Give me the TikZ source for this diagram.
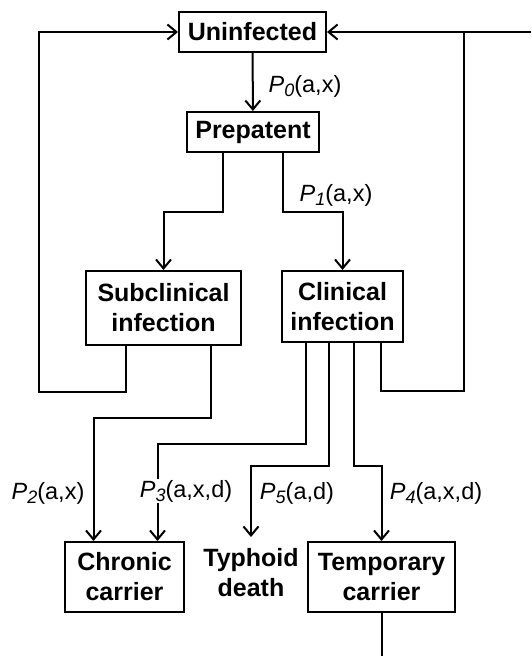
\documentclass[tikz,border=0pt]{standalone}
\usepackage{fontspec}
\setmainfont{Liberation Sans}
\usetikzlibrary{arrows.meta}

\newcommand{\prob}[2]{\textit{P}\raisebox{-0.35ex}{\fontsize{18}{18}\selectfont\textit{#1}}(#2)}

\tikzset{
  stage/.style={draw, line width=2pt, font=\bfseries\fontsize{25}{30}\selectfont, align=center, inner sep=0pt},
  flow/.style={line width=2pt},
  lbl/.style={font=\fontsize{23.5}{28}\selectfont, inner sep=1pt},
}

\begin{document}
\begin{tikzpicture}[x=1pt,y=-1pt,>={Straight Barb[length=9pt,width=15pt]}]

\useasboundingbox (0,0) rectangle (531,656);

% compartments
\node[stage, minimum width=147pt, minimum height=40pt] (unin) at (252.5,32) {Uninfected};
\node[stage, minimum width=132pt, minimum height=40pt] (prep) at (253,132) {Prepatent};
\node[stage, minimum width=155pt, minimum height=74pt] (sub) at (163.5,308) {Subclinical\\infection};
\node[stage, minimum width=121pt, minimum height=71pt] (clin) at (342.5,306.5) {Clinical\\infection};
\node[stage, minimum width=119pt, minimum height=70pt] (chron) at (124.5,577) {Chronic\\carrier};
\node[stage, draw=none, minimum height=70pt] (death) at (251,573) {Typhoid\\death};
\node[stage, minimum width=147pt, minimum height=70pt] (temp) at (381.5,577) {Temporary\\carrier};

\coordinate (lloop) at (39,392);
\coordinate (rloop) at (464,391);
\coordinate (redge) at (531,32);
\coordinate (bedge) at (0,656);

% flows
\draw[flow,->] (unin) -- (prep);
\draw[flow,->] ([xshift=-30pt]prep.south) -- ++(0,59) -| (sub);
\draw[flow,->] ([xshift=30pt]prep.south) -- ++(0,59) -| (clin);

\draw[flow,->] ([xshift=-38pt]sub.south) |- (lloop) |- (unin.west);
\draw[flow,->] ([xshift=38pt]clin.south) |- (rloop) |- (unin.east);
\draw[flow] (redge) -- (rloop |- unin.east);

\draw[flow,->] ([xshift=47pt]sub.south) -- ++(0,72) -| ([xshift=-31pt]chron.north);
\draw[flow,->] ([xshift=-37pt]clin.south) -- ++(0,101) -| ([xshift=33pt]chron.north);
\draw[flow,->] ([xshift=-14pt]clin.south) -- ++(0,123) -| (death);
\draw[flow,->] ([xshift=11pt]clin.south) -- ++(0,123) -| (temp);
\draw[flow] (temp.south) -- (temp.south |- bedge);

% rates
\node[lbl] (p0) at (305,86) {\prob{0}{a,x}};
\node[lbl] (p1) at (336,195) {\prob{1}{a,x}};
\node[lbl] (p2) at (48,493) {\prob{2}{a,x}};
\node[lbl, fill=white] (p3) at (186,491) {\prob{3}{a,x,d}};
\node[lbl] (p5) at (297,493) {\prob{5}{a,d}};
\node[lbl] (p4) at (436,493) {\prob{4}{a,x,d}};

\end{tikzpicture}
\end{document}
